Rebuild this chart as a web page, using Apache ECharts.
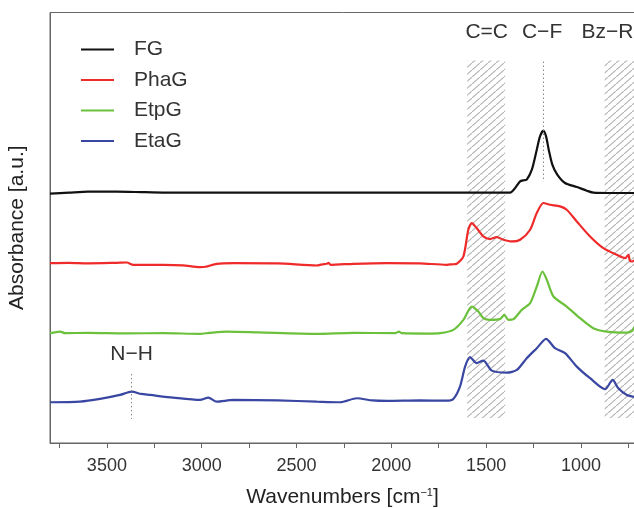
<!DOCTYPE html>
<html>
<head>
<meta charset="utf-8">
<script src="https://cdn.jsdelivr.net/npm/echarts@6/dist/echarts.min.js"></script>
<style>
  html, body { margin: 0; padding: 0; background: #fff; }
  #chart { width: 634px; height: 508px; }
</style>
</head>
<body>
<div id="chart"></div>
<script>
  // 光谱数据 [波数 cm-1, 吸光度(含偏移)]
  const FG = [[3800, 2.49], [3700, 2.50], [3600, 2.51], [3450, 2.51], [3300, 2.505], [3100, 2.50], [2900, 2.50],
    [2600, 2.50], [2300, 2.50], [2000, 2.50], [1700, 2.50], [1500, 2.50], [1374, 2.50], [1347, 2.547],
    [1321, 2.613], [1300, 2.625], [1286, 2.63], [1259, 2.73], [1233, 2.93], [1216, 3.063], [1198, 3.12],
    [1184, 3.063], [1170, 2.93], [1151, 2.78], [1125, 2.68], [1084, 2.597], [1022, 2.557], [969, 2.52],
    [934, 2.50], [850, 2.497], [715, 2.497]]
  const PhaG = [[3800, 1.797], [3700, 1.80], [3600, 1.795], [3450, 1.80], [3395, 1.803], [3361, 1.78], [3200, 1.78],
    [3100, 1.775], [3009, 1.757], [2980, 1.76], [2921, 1.79], [2833, 1.797], [2600, 1.795], [2393, 1.773],
    [2376, 1.78], [2340, 1.79], [2332, 1.80], [2320, 1.78], [2200, 1.79], [2024, 1.797], [1850, 1.795],
    [1708, 1.78], [1680, 1.785], [1655, 1.79], [1620, 1.863], [1594, 2.13], [1576, 2.197], [1550, 2.147],
    [1515, 2.063], [1480, 2.037], [1444, 2.057], [1409, 2.03], [1365, 2.013], [1321, 2.03], [1268, 2.13],
    [1233, 2.297], [1198, 2.397], [1163, 2.38], [1110, 2.363], [1075, 2.33], [1022, 2.213], [952, 2.063],
    [882, 1.947], [811, 1.88], [767, 1.847], [750, 1.88], [742, 1.82], [732, 1.813], [715, 1.83]]
  const EtpG = [[3800, 1.097], [3747, 1.113], [3720, 1.097], [3600, 1.10], [3400, 1.095], [3200, 1.097], [3009, 1.09],
    [2960, 1.10], [2868, 1.113], [2700, 1.105], [2393, 1.09], [2200, 1.10], [1980, 1.097], [1960, 1.113],
    [1945, 1.097], [1800, 1.093], [1743, 1.097], [1673, 1.13], [1620, 1.23], [1576, 1.363], [1541, 1.313],
    [1515, 1.247], [1480, 1.23], [1427, 1.237], [1404, 1.28], [1383, 1.23], [1356, 1.237], [1312, 1.33],
    [1268, 1.397], [1233, 1.563], [1203, 1.713], [1180, 1.63], [1145, 1.463], [1075, 1.363], [1005, 1.247],
    [935, 1.147], [864, 1.113], [758, 1.103], [730, 1.12], [715, 1.17]]
  const EtaG = [[3800, 0.407], [3642, 0.413], [3536, 0.44], [3431, 0.48], [3369, 0.513], [3320, 0.49], [3273, 0.48],
    [3150, 0.453], [3009, 0.43], [2965, 0.453], [2921, 0.413], [2833, 0.43], [2600, 0.425], [2393, 0.413],
    [2270, 0.407], [2182, 0.447], [2100, 0.425], [2024, 0.42], [1850, 0.425], [1708, 0.423], [1673, 0.44],
    [1638, 0.563], [1611, 0.763], [1585, 0.857], [1550, 0.797], [1515, 0.823], [1470, 0.723], [1391, 0.703],
    [1338, 0.73], [1286, 0.847], [1233, 0.947], [1184, 1.04], [1137, 0.947], [1084, 0.897], [1022, 0.763],
    [952, 0.647], [873, 0.537], [833, 0.63], [803, 0.547], [758, 0.48], [715, 0.46]]

  const NAMES = ['FG', 'PhaG', 'EtpG', 'EtaG']
  const COLORS = ['#111111', '#ee2a2a', '#6cc13c', '#3a47a2']
  const XLABELS = [3500, 3000, 2500, 2000, 1500, 1000]
  const XTICKS = [3750, 3500, 3250, 3000, 2750, 2500, 2250, 2000, 1750, 1500, 1250, 1000, 750]
  // 标注带 [起, 止], 标注文字
  const BANDS = [[1600, 1400], [875, 700]]
  const PEAKLABELS = [['C=C', 1497, 4.10], ['C\u2212F', 1205, 4.10], ['Bz\u2212R', 860, 4.10], ['N\u2212H', 3370, 0.89]]
  const DOTLINES = [[1198, 3.81, 2.61], [3370, 0.69, 0.24]]

  // 斜线填充
  let hatch = document.createElement('canvas')
  hatch.width = 8
  hatch.height = 7
  let ctx = hatch.getContext('2d')
  ctx.strokeStyle = '#b4b4b4'
  ctx.lineWidth = 1.1
  ctx.beginPath()
  ctx.moveTo(-1, 7 + 7 / 8); ctx.lineTo(9, -7 / 8)
  ctx.stroke()

  const chart = echarts.init(document.getElementById('chart'))
  const data = [FG, PhaG, EtpG, EtaG]

  let series = data.map((d, i) => ({
    name: NAMES[i],
    type: 'line',
    data: d,
    showSymbol: false,
    smooth: 0.25,
    lineStyle: { width: 2.2, color: COLORS[i] },
    itemStyle: { color: COLORS[i] },
    z: 3
  }))

  // 注释放在一个空系列上
  series.push({
    type: 'line',
    data: [],
    silent: true,
    markArea: {
      silent: true,
      itemStyle: { color: { image: hatch, repeat: 'repeat' } },
      data: BANDS.map(b => [{ coord: [b[0], 3.82] }, { coord: [Math.max(b[1], 715), 0.25] }])
    },
    markLine: {
      silent: true,
      symbol: 'none',
      label: { show: false },
      lineStyle: { color: '#888', type: [1.5, 2.5], width: 1 },
      data: DOTLINES.map(l => [{ coord: [l[0], l[1]] }, { coord: [l[0], l[2]] }])
    },
    markPoint: {
      silent: true,
      symbol: 'rect',
      symbolSize: 0,
      label: {
        show: true,
        position: 'inside',
        fontSize: 21,
        color: '#333',
        fontFamily: 'Liberation Sans, Arial',
        formatter: p => p.name
      },
      data: PEAKLABELS.map(p => ({ name: p[0], coord: [p[1], p[2]] }))
    }
  })

  chart.setOption({
    animation: false,
    backgroundColor: '#fff',
    textStyle: { fontFamily: 'Liberation Sans, Arial' },
    grid: {
      left: 50, right: -1, top: 12.5, bottom: 65,
      outerBoundsMode: 'none',
      containLabel: false,
      show: true, borderColor: '#666', borderWidth: 1
    },
    legend: {
      data: NAMES,
      orient: 'vertical',
      left: 76,
      top: 34,
      icon: 'rect',
      itemWidth: 33,
      itemHeight: 2,
      itemGap: 9.5,
      textStyle: { fontSize: 21, color: '#333', padding: [0, 0, 0, 15] }
    },
    xAxis: {
      type: 'value',
      inverse: true,
      min: 715,
      max: 3800,
      name: 'Wavenumbers [cm{sup|\u22121}]',
      nameLocation: 'middle',
      nameGap: 44,
      nameTextStyle: {
        fontSize: 21, color: '#222',
        rich: { sup: { fontSize: 11, verticalAlign: 'top', padding: [0, 0, 10, 0], color: '#222' } }
      },
      splitLine: { show: false },
      axisLine: { show: true, lineStyle: { color: '#666', width: 1 } },
      axisTick: { show: true, customValues: XTICKS, length: 5, lineStyle: { color: '#666' } },
      axisLabel: { customValues: XLABELS, fontSize: 18, color: '#333', margin: 14, formatter: v => String(v) }
    },
    yAxis: {
      type: 'value',
      min: 0,
      max: 4.3,
      name: 'Absorbance [a.u.]',
      nameLocation: 'middle',
      nameRotate: 90,
      nameGap: 22,
      nameTextStyle: { fontSize: 21, color: '#222' },
      splitLine: { show: false },
      axisLine: { show: true, lineStyle: { color: '#666', width: 1 } },
      axisTick: { show: false },
      axisLabel: { show: false }
    },
    series: series
  })
</script>
</body>
</html>
